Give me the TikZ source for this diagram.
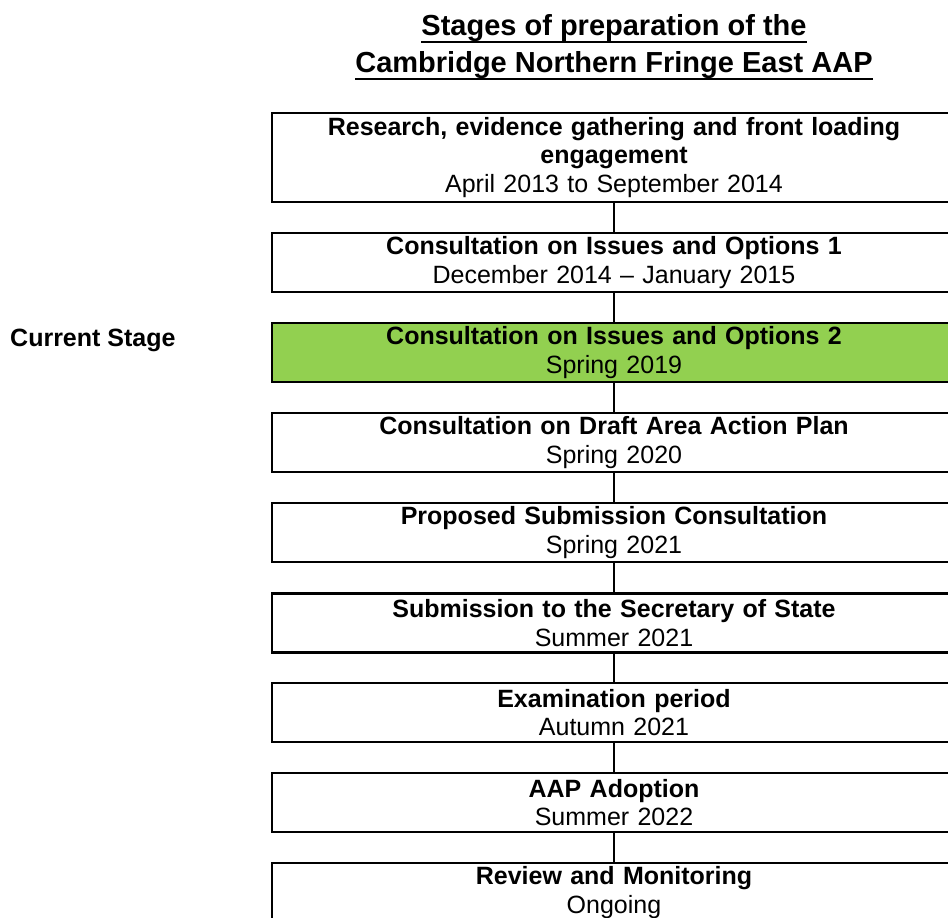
\documentclass[tikz,border=0pt]{standalone}
\usepackage{fontspec}
\setmainfont{Liberation Sans}
\definecolor{stagegreen}{HTML}{92D050}
\begin{document}
\begin{tikzpicture}[x=1pt,y=-1pt,
  stagebox/.style={draw=black,line width=2.7pt,minimum width=684pt,minimum height=59pt,
    text width=670pt,align=center,inner sep=0pt,font=\fontsize{25}{28.75}\selectfont},
  link/.style={draw=black,line width=2pt},
  titletext/.style={inner sep=0pt,anchor=base,font=\fontsize{29}{37}\selectfont\bfseries},
  uline/.style={draw=black,line width=2.7pt},
  sidelabel/.style={inner sep=0pt,anchor=base west,font=\fontsize{25}{28.75}\selectfont\bfseries}]
\useasboundingbox (0,0) rectangle (948,918);
\fill[white] (0,0) rectangle (948,918);

% title
\node[titletext] (t1) at (614,35) {Stages of preparation of the};
\node[titletext] (t2) at (614,72) {Cambridge Northern Fringe East AAP};
\draw[uline] ([yshift=-7pt]t1.base west) -- ([yshift=-7pt]t1.base east);
\draw[uline] ([yshift=-7pt]t2.base west) -- ([yshift=-7pt]t2.base east);

% side label
\node[sidelabel] (cur) at (10,346) {Current Stage};

% boxes
\node[stagebox,minimum height=89pt] (b1) at (614,157.5)
  {\textbf{Research, evidence gathering and front loading}\\\textbf{engagement}\\April 2013 to September 2014};
\node[stagebox] (b2) at (614,262.5)
  {\textbf{Consultation on Issues and Options 1}\\December 2014 – January 2015};
\node[stagebox,fill=stagegreen] (b3) at (614,352.5)
  {\textbf{Consultation on Issues and Options 2}\\Spring 2019};
\node[stagebox] (b4) at (614,442.5)
  {\textbf{Consultation on Draft Area Action Plan}\\Spring 2020};
\node[stagebox] (b5) at (614,532.5)
  {\textbf{Proposed Submission Consultation}\\Spring 2021};
\node[stagebox] (b6) at (614,623)
  {\textbf{Submission to the Secretary of State}\\Summer 2021};
\node[stagebox] (b7) at (614,712.5)
  {\textbf{Examination period}\\Autumn 2021};
\node[stagebox] (b8) at (614,802.5)
  {\textbf{AAP Adoption}\\Summer 2022};
\node[stagebox] (b9) at (614,892.5)
  {\textbf{Review and Monitoring}\\Ongoing};

% connectors
\draw[link] (b1.south) -- (b2.north);
\draw[link] (b2.south) -- (b3.north);
\draw[link] (b3.south) -- (b4.north);
\draw[link] (b4.south) -- (b5.north);
\draw[link] (b5.south) -- (b6.north);
\draw[link] (b6.south) -- (b7.north);
\draw[link] (b7.south) -- (b8.north);
\draw[link] (b8.south) -- (b9.north);
\end{tikzpicture}
\end{document}
